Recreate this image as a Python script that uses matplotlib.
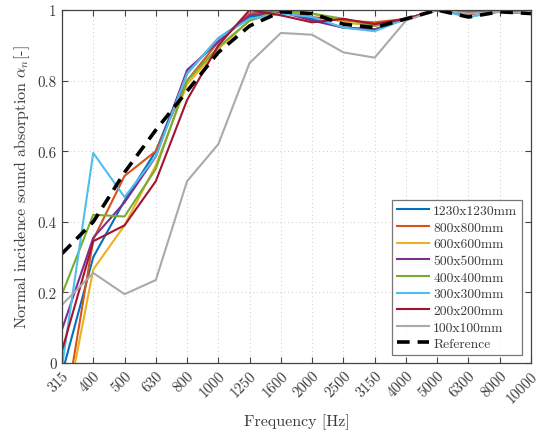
import matplotlib
matplotlib.use("Agg")
import matplotlib.pyplot as plt
import numpy as np

plt.rcParams["font.family"] = ["cmr10", "DejaVu Serif"]
plt.rcParams["mathtext.fontset"] = "cm"
plt.rcParams["axes.formatter.use_mathtext"] = True

freqs = ["315", "400", "500", "630", "800", "1000", "1250", "1600", "2000",
         "2500", "3150", "4000", "5000", "6300", "8000", "10000"]

s1230 = [-0.03, 0.30, 0.46, 0.60, 0.82, 0.92, 0.98, 0.995, 0.975, 0.95, 0.945, 0.975, 1.0, 0.99, 0.995, 0.99]
s800 = [-0.19, 0.35, 0.53, 0.60, 0.80, 0.91, 0.99, 1.0, 0.98, 0.97, 0.965, 0.975, 1.0, 0.995, 0.995, 0.99]
s600 = [-0.19, 0.265, 0.39, 0.56, 0.79, 0.89, 0.97, 0.995, 0.99, 0.965, 0.955, 0.975, 1.0, 0.99, 0.995, 0.99]
s500 = [0.095, 0.355, 0.455, 0.585, 0.83, 0.91, 0.985, 0.995, 0.97, 0.95, 0.945, 0.975, 1.0, 0.99, 0.995, 0.99]
s400 = [0.195, 0.42, 0.415, 0.55, 0.80, 0.895, 0.97, 1.0, 0.99, 0.975, 0.955, 0.975, 1.0, 0.99, 0.995, 0.99]
s300 = [-0.01, 0.595, 0.47, 0.585, 0.82, 0.92, 0.975, 0.99, 0.98, 0.95, 0.94, 0.975, 1.0, 0.98, 0.995, 0.99]
s200 = [0.035, 0.345, 0.39, 0.515, 0.745, 0.90, 1.0, 0.985, 0.965, 0.975, 0.96, 0.975, 1.0, 0.99, 0.995, 0.99]
s100 = [0.165, 0.255, 0.195, 0.235, 0.515, 0.62, 0.85, 0.935, 0.93, 0.88, 0.865, 0.97, 1.0, 0.99, 0.995, 0.99]
reference = [0.31, 0.40, 0.54, 0.66, 0.77, 0.88, 0.955, 0.995, 0.99, 0.96, 0.95, 0.975, 1.0, 0.98, 0.995, 0.99]

labels = ["1230x1230mm", "800x800mm", "600x600mm", "500x500mm",
          "400x400mm", "300x300mm", "200x200mm", "100x100mm"]
series = [s1230, s800, s600, s500, s400, s300, s200, s100]
colors = ["#0072BD", "#D95319", "#EDB120", "#7E2F8E",
          "#77AC30", "#4DBEEE", "#A2142F", "#AAAAAA"]

fig = plt.figure(figsize=(5.42, 4.35), dpi=100)
ax = fig.add_axes([0.1144, 0.1632, 0.8653, 0.8115])

x = np.arange(len(freqs))
for vals, lab, col in zip(series, labels, colors):
    ax.plot(x, vals, color=col, lw=1.5, label=lab)
ax.plot(x, reference, color="black", lw=2.6, ls=(0, (3.5, 2.2)), label="Reference")

ax.set_xlim(0, len(freqs) - 1)
ax.set_ylim(0, 1)
ax.set_xticks(x)
ax.set_xticklabels(freqs, rotation=45, ha="right", va="top", rotation_mode="anchor")
ax.set_yticks([0, 0.2, 0.4, 0.6, 0.8, 1.0])
ax.set_yticklabels(["0", "0.2", "0.4", "0.6", "0.8", "1"])

txt = "#3a3a3a"
ax.tick_params(direction="in", top=True, right=True, length=4, width=0.8,
               colors="#444444", labelcolor=txt, labelsize=10.8, pad=4)
for sp in ax.spines.values():
    sp.set_color("#444444")
    sp.set_linewidth(0.9)
ax.grid(True, ls=(0, (1, 3)), color="#cccccc", lw=0.7)

ax.set_xlabel("Frequency [Hz]", fontsize=11.5, color=txt, labelpad=6)
ax.set_ylabel(r"Normal incidence sound absorption $\alpha_n$[-]", fontsize=11.5, color=txt, labelpad=4)

leg = ax.legend(loc="lower right", bbox_to_anchor=(0.981, 0.023), fontsize=9.8,
                frameon=True, fancybox=False, edgecolor="#555555",
                handlelength=2.35, handletextpad=0.3, labelspacing=0.3,
                borderpad=0.35, borderaxespad=0.0)
leg.get_frame().set_linewidth(0.9)
for t in leg.get_texts():
    t.set_color(txt)

fig.savefig("out.png", dpi=100)
